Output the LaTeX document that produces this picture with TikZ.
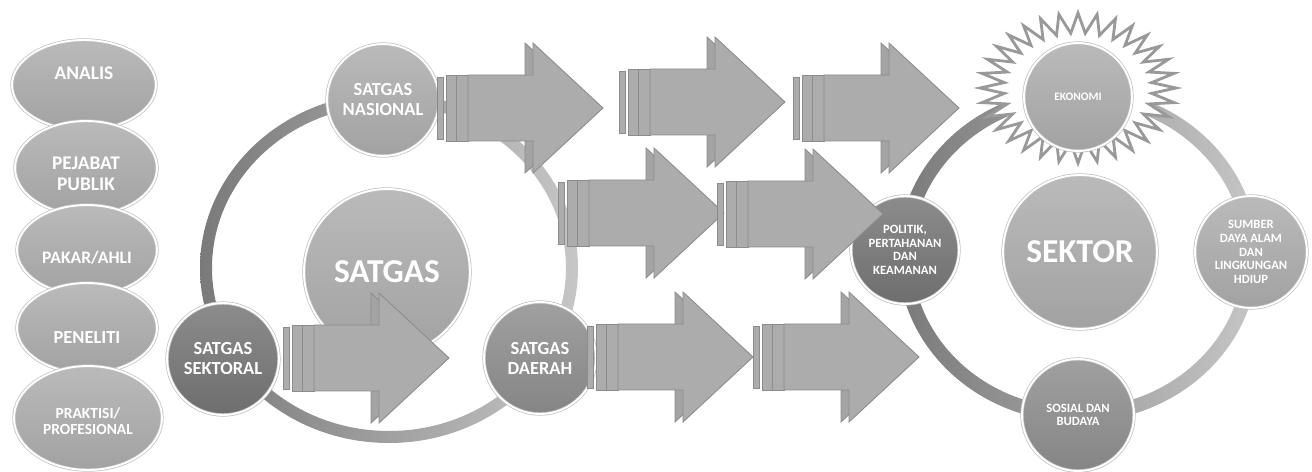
\documentclass[tikz,border=0pt]{standalone}
\usepackage{fontspec}
\setmainfont{Carlito}
\usepackage{tikz}
\usetikzlibrary{shapes.geometric}

\definecolor{ballhi}{HTML}{BABABA}
\definecolor{balllo}{HTML}{A2A2A2}
\definecolor{darkhi}{HTML}{8C8C8C}
\definecolor{darklo}{HTML}{6E6E6E}
\definecolor{midhi}{HTML}{A0A0A0}
\definecolor{midlo}{HTML}{858585}
\definecolor{arrowgray}{HTML}{ACACAC}
\definecolor{arrowback}{HTML}{A4A4A4}
\definecolor{arrowedge}{HTML}{8C8C8C}
\definecolor{ringdark}{HTML}{7A7A7A}
\definecolor{ringlight}{HTML}{C6C6C6}

\tikzset{
  oval/.style={ellipse, draw=gray!50, double=white, double distance=1.1pt,
    top color=ballhi, bottom color=balllo, inner sep=0pt},
  ovaltext/.style={text=white, align=center, font=\bfseries\fontsize{11}{11.6}\selectfont},
  ball/.style={circle, draw=gray!50, double=white, double distance=1.1pt,
    top color=ballhi, bottom color=balllo, text=white, align=center, inner sep=0pt,
    minimum size=2.24cm, font=\bfseries\fontsize{10.5}{11.4}\selectfont},
  darkball/.style={ball, top color=darkhi, bottom color=darklo},
  midball/.style={ball, top color=midhi, bottom color=midlo},
  bigball/.style={ball, font=\bfseries\fontsize{19}{20}\selectfont},
  smallball/.style={font=\bfseries\fontsize{7.2}{7.8}\selectfont},
  ringfill/.style={even odd rule, left color=ringdark, right color=ringlight},
  burst/.style={fill=white, draw=gray!80, line width=1.6pt, line join=miter},
  arrowbar/.style={fill=arrowgray, draw=arrowedge, line width=0.5pt},
  arrowhead/.style={fill=arrowback, draw=arrowedge, line width=0.5pt},
  arrowbody/.style={fill=arrowgray, draw=arrowedge, line width=0.5pt},
  stripearrow/.pic={
    \filldraw[arrowbar] (0,-31) rectangle (6,31);
    \filldraw[arrowbar] (9,-33) rectangle (19,33);
    \filldraw[arrowbar] (19,-33) rectangle (31,33);
    \filldraw[arrowhead] (88,-33) -- (88,-65) -- (158,0) -- (88,65) -- (88,33) -- cycle;
    \filldraw[arrowbody] (31,-33) -- (96,-33) -- (96,-65) -- (166,0) -- (96,65) -- (96,33) -- (31,33) -- cycle;
  }
}

\begin{document}
\begin{tikzpicture}[x=0.02cm, y=-0.02cm]
  \useasboundingbox (0,0) rectangle (1312,472);

  % left column
  \node[oval, minimum width=2.88cm, minimum height=1.8cm,
        label={[ovaltext, yshift=0.24cm]center:ANALIS}] (Analis) at (84,85) {};
  \node[oval, minimum width=2.84cm, minimum height=1.88cm,
        label={[ovaltext, yshift=-0.12cm]center:PEJABAT\\PUBLIK}] (Pejabat) at (86,168) {};
  \node[oval, minimum width=2.8cm, minimum height=1.8cm,
        label={[ovaltext, yshift=-0.16cm, font=\bfseries\fontsize{10}{11}\selectfont]center:PAKAR/AHLI}] (Pakar) at (87,250) {};
  \node[oval, minimum width=2.8cm, minimum height=1.8cm,
        label={[ovaltext, yshift=-0.2cm, font=\bfseries\fontsize{10.5}{11}\selectfont]center:PENELITI}] (Peneliti) at (87,328) {};
  \node[oval, minimum width=2.96cm, minimum height=2.08cm,
        label={[ovaltext, yshift=-0.06cm, font=\bfseries\fontsize{8.8}{8.8}\selectfont]center:PRAKTISI/\\PROFESIONAL}] (Praktisi) at (88,418) {};

  % satgas cycle
  \path[ringfill] (389,268) ellipse [x radius=189, y radius=175]
                  (389,268) ellipse [x radius=177, y radius=163];
  \node[bigball, minimum size=3.32cm] (Satgas) at (387,272) {SATGAS};
  \node[ball] (Nasional) at (383,100) {SATGAS\\NASIONAL};
  \node[darkball] (Sektoral) at (223,359) {SATGAS\\SEKTORAL};
  \node[midball] (Daerah) at (540,358) {SATGAS\\DAERAH};

  % sektor cycle
  \path[ringfill] (1078,255) ellipse [x radius=180, y radius=167]
                  (1078,255) ellipse [x radius=166, y radius=153];
  \draw[burst] plot[samples=65, domain=0:64, variable=\k]
    ({1078+(98-24*mod(\k,2))*cos(5.625*\k)}, {88+(75-20*mod(\k,2))*sin(5.625*\k)}) -- cycle;
  \node[ball, minimum size=2.16cm, font=\bfseries\fontsize{6.5}{7}\selectfont] (Ekonomi) at (1078,97) {EKONOMI};
  \node[bigball, minimum size=3.08cm] (Sektor) at (1080,252) {SEKTOR};
  \node[darkball, minimum size=2.16cm, smallball] (Politik) at (905,250) {POLITIK,\\PERTAHANAN\\DAN\\KEAMANAN};
  \node[ball, smallball] (Sumber) at (1251,252) {SUMBER\\DAYA ALAM\\DAN\\LINGKUNGAN\\HDIUP};
  \node[midball, smallball] (Sosial) at (1078,415) {SOSIAL DAN\\BUDAYA};

  % arrows
  \pic at (437,108) {stripearrow};
  \pic at (619,102) {stripearrow};
  \pic at (793,108) {stripearrow};
  \pic at (558,213) {stripearrow};
  \pic at (717,214) {stripearrow};
  \pic at (283,358) {stripearrow};
  \pic at (587,357) {stripearrow};
  \pic at (753,357) {stripearrow};
\end{tikzpicture}
\end{document}
